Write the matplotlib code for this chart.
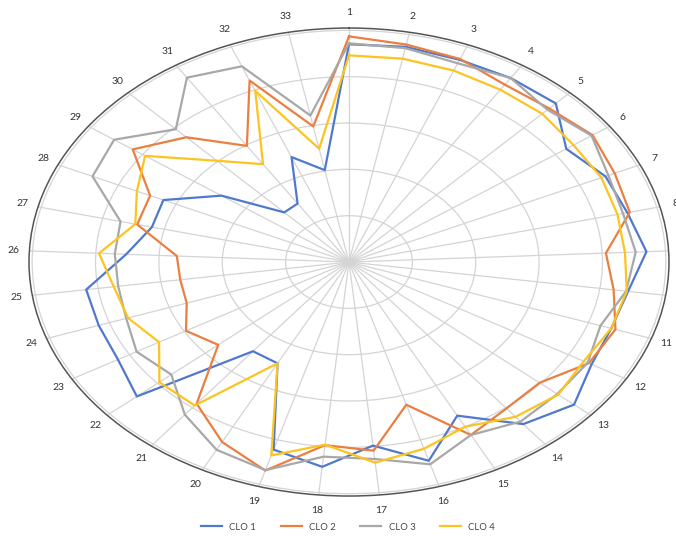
import numpy as np
import matplotlib.pyplot as plt

categories = [str(i) for i in range(1, 34)]

clo1 = [4.70, 4.73, 4.70, 4.72, 4.73, 4.21, 4.45, 4.52, 4.70, 4.45, 4.38,
        4.42, 4.70, 4.45, 3.73, 4.47, 3.98, 4.44, 4.22, 2.46, 2.45, 4.43,
        4.21, 4.18, 4.19, 3.52, 3.20, 3.22, 2.47, 1.48, 1.50, 2.44, 2.02]
clo2 = [4.87, 4.78, 4.72, 4.55, 4.58, 4.72, 4.61, 4.56, 4.06, 4.22, 4.45,
        4.37, 3.98, 4.02, 4.20, 3.21, 4.09, 3.97, 4.69, 4.37, 3.89, 2.73,
        2.97, 2.71, 2.69, 2.72, 3.44, 3.45, 4.19, 3.72, 2.98, 4.22, 2.98]
clo3 = [4.72, 4.70, 4.62, 4.72, 4.54, 4.70, 4.50, 4.45, 4.53, 4.42, 4.20,
        4.35, 4.35, 4.38, 4.20, 4.55, 4.27, 4.22, 4.68, 4.56, 4.19, 3.71,
        3.87, 3.72, 3.68, 3.70, 3.71, 4.45, 4.55, 3.96, 4.73, 4.55, 3.22]
clo4 = [4.46, 4.47, 4.45, 4.42, 4.42, 4.35, 4.38, 4.36, 4.36, 4.43, 4.38,
        4.28, 4.37, 4.25, 4.00, 4.20, 4.35, 3.96, 4.35, 2.46, 3.94, 3.96,
        3.46, 3.69, 3.75, 3.95, 3.47, 3.68, 3.95, 3.02, 2.51, 3.98, 2.49]

series = [("CLO 1", clo1, "#5079cc"),
          ("CLO 2", clo2, "#ea7f42"),
          ("CLO 3", clo3, "#a8a8a8"),
          ("CLO 4", clo4, "#fbc420")]

plt.rcParams["font.family"] = ["Lato", "DejaVu Sans"]

fig = plt.figure(figsize=(6.76, 5.36), dpi=100)
ax = fig.add_axes([0.0429, 0.0746, 0.9467, 0.8731], projection="polar")
ax.set_aspect("auto")
ax.set_theta_offset(np.pi / 2)
ax.set_theta_direction(-1)

n = len(categories)
angles = np.linspace(0, 2 * np.pi, n, endpoint=False)
closed = np.append(angles, angles[0])

for name, vals, color in series:
    ax.plot(closed, vals + vals[:1], color=color, lw=1.6, label=name)

ax.set_xticks(angles)
ax.set_xticklabels(categories, fontsize=7.5, color="#333333")
ax.tick_params(axis="x", pad=1)
ax.set_yticks([1, 2, 3, 4, 5])
ax.set_yticklabels([])
ax.set_ylim(0, 5.05)
ax.grid(color="#d4d4d4", lw=0.9)
ax.spines["polar"].set_color("#555555")
ax.spines["polar"].set_linewidth(1.1)

fig.legend(loc="lower center", bbox_to_anchor=(0.515, -0.008), ncol=4,
           frameon=False, fontsize=6.8, handlelength=2.2, columnspacing=2.6,
           labelcolor="#444444")

fig.savefig("out.png", dpi=100)
